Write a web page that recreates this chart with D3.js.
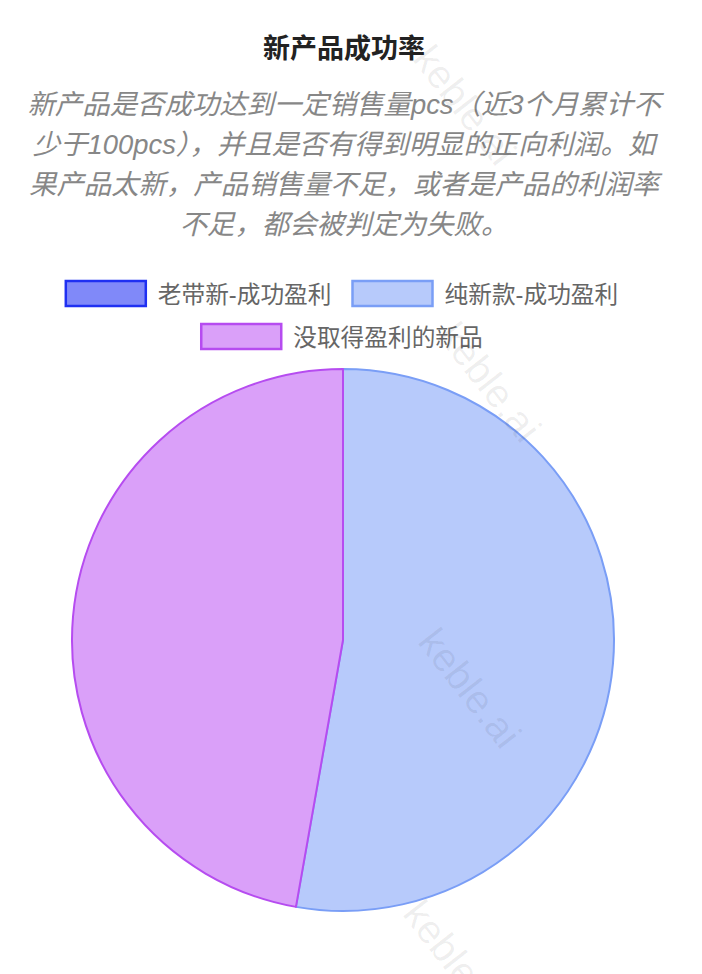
<!DOCTYPE html>
<html>
<head>
<meta charset="utf-8">
<script src="https://cdn.jsdelivr.net/npm/d3@7/dist/d3.min.js"></script>
<style>
  html, body { margin: 0; padding: 0; background: #fff; }
  svg { display: block; }
  text { font-family: "Liberation Sans", "Noto Sans CJK SC", sans-serif; }
</style>
</head>
<body>
<svg id="chart" width="702" height="974"></svg>
<script>
// ---- data ----
const title = "新产品成功率";
const subtitleLines = [
  "新产品是否成功达到一定销售量pcs（近3个月累计不",
  "少于100pcs），并且是否有得到明显的正向利润。如",
  "果产品太新，产品销售量不足，或者是产品的利润率",
  "不足，都会被判定为失败。"
];
const categories = ["老带新-成功盈利", "纯新款-成功盈利", "没取得盈利的新品"];
const values = [0, 19, 17];
const fillColors = ["#8089f9", "#b7cafb", "#daa0f9"];
const strokeColors = ["#1f30f2", "#7a9ef6", "#b64cf0"];
const watermark = "keble.ai";

// ---- layout ----
const W = 702, H = 974;
const svg = d3.select("#chart");

// title
svg.append("text")
  .attr("x", 344).attr("y", 49)
  .attr("text-anchor", "middle").attr("dominant-baseline", "central")
  .attr("font-size", 27).attr("font-weight", "bold").attr("fill", "#222")
  .text(title);

// subtitle
svg.append("g").selectAll("text").data(subtitleLines).join("text")
  .attr("x", 344).attr("y", (d, i) => 104 + i * 40.3)
  .attr("text-anchor", "middle").attr("dominant-baseline", "central")
  .attr("font-size", 27.4).attr("font-style", "italic").attr("fill", "#878787")
  .text(d => d);

// legend
const boxW = 80, boxH = 25, boxGap = 12, itemGap = 18, rowH = 43;
const legend = svg.append("g");
const items = categories.map((c, i) => {
  const g = legend.append("g");
  g.append("rect").attr("width", boxW).attr("height", boxH)
    .attr("x", 1.5).attr("y", -boxH / 2)
    .attr("fill", fillColors[i]).attr("stroke", strokeColors[i]).attr("stroke-width", 2.5);
  const t = g.append("text").attr("x", boxW + boxGap + 1.5).attr("y", 1)
    .attr("dominant-baseline", "central").attr("font-size", 23.7).attr("fill", "#666")
    .text(c);
  return { g, w: boxW + boxGap + t.node().getComputedTextLength() + 3 };
});
const rows = [];
let cur = [], curW = 0;
items.forEach(it => {
  const add = (cur.length ? itemGap : 0) + it.w;
  if (cur.length && curW + add > 620) { rows.push({ items: cur, w: curW }); cur = []; curW = 0; }
  curW += (cur.length ? itemGap : 0) + it.w;
  cur.push(it);
});
if (cur.length) rows.push({ items: cur, w: curW });
rows.forEach((r, ri) => {
  let x = 342 - r.w / 2;
  r.items.forEach(it => {
    it.g.attr("transform", `translate(${x},${293.5 + ri * rowH})`);
    x += it.w + itemGap;
  });
});

// pie
const cx = 343, cy = 640, R = 271;
const pie = d3.pie().sort(null).value(d => d)(values);
const arc = d3.arc().innerRadius(0).outerRadius(R);
svg.append("g").attr("transform", `translate(${cx},${cy})`)
  .selectAll("path").data(pie.filter(d => d.value > 0)).join("path")
  .attr("d", arc)
  .attr("fill", d => fillColors[d.index])
  .attr("stroke", d => strokeColors[d.index])
  .attr("stroke-width", 2)
  .attr("stroke-linejoin", "round");

// watermark
const wmPos = [[465, 105], [490, 382], [470, 688], [455, 960]];
svg.append("g").selectAll("text").data(wmPos).join("text")
  .attr("transform", d => `translate(${d[0]},${d[1]}) rotate(52)`)
  .attr("text-anchor", "middle").attr("dominant-baseline", "central")
  .attr("font-size", 40).attr("fill", "#000").attr("fill-opacity", 0.065)
  .text(watermark);
</script>
</body>
</html>
